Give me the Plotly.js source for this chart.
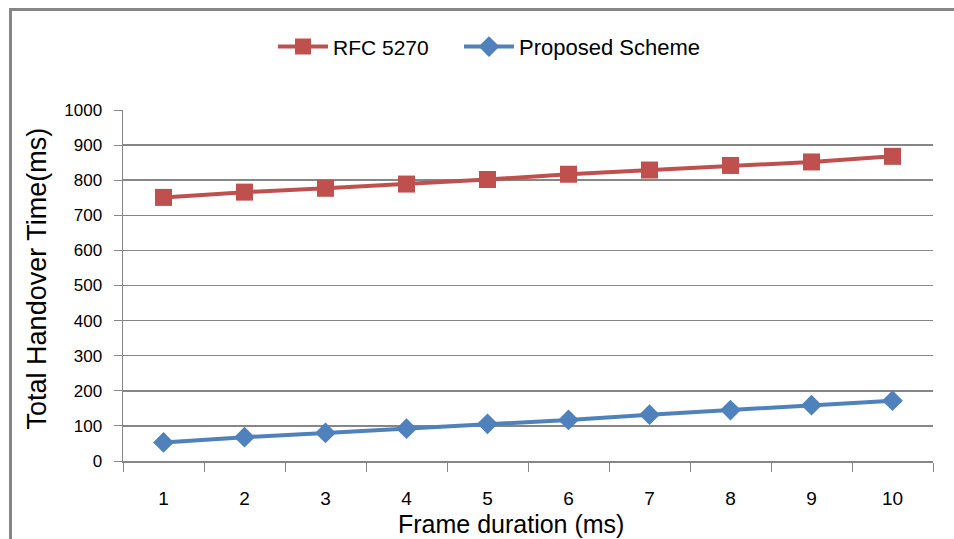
<!DOCTYPE html>
<html>
<head>
<meta charset="utf-8">
<script src="https://cdn.plot.ly/plotly-3.0.1.min.js"></script>
<style>html,body{margin:0;padding:0;background:#fff;}#chart{width:954px;height:539px;}</style>
</head>
<body>
<div id="chart"></div>
<script>
const categories = ["1","2","3","4","5","6","7","8","9","10"];
const rfc5270 = [751, 766, 777, 789, 802, 817, 829, 842, 852, 868];
const proposed = [53, 68, 80, 92, 106, 117, 132, 145, 159, 172];
const seriesNames = ["RFC 5270", "Proposed Scheme"];
const yTicks = [0,100,200,300,400,500,600,700,800,900,1000];
const xTitle = "Frame duration (ms)";
const yTitle = "Total Handover Time(ms)";

const FONT = '"Liberation Sans", Arial, sans-serif';

const traces = [
  {x: categories, y: rfc5270, name: seriesNames[0], type: 'scatter', mode: 'lines+markers',
   legend: 'legend',
   line: {color: '#C0504D', width: 4}, marker: {symbol: 'square', size: 17, color: '#C0504D'}},
  {x: categories, y: proposed, name: seriesNames[1], type: 'scatter', mode: 'lines+markers',
   legend: 'legend2',
   line: {color: '#4F81BD', width: 4}, marker: {symbol: 'diamond', size: 16, color: '#4F81BD'}}
];

function px2x(p) { return (p - 123) / 810; }

const legendCommon = {orientation: 'h', yanchor: 'middle', y: 1.18, xanchor: 'left',
  font: {family: FONT, size: 21, color: '#000'}, itemwidth: 50, bgcolor: 'rgba(0,0,0,0)'};

const layout = {
  width: 954, height: 539,
  margin: {l: 123, r: 21, t: 110, b: 78},
  paper_bgcolor: '#fff', plot_bgcolor: '#fff',
  font: {family: FONT, size: 19, color: '#000'},
  showlegend: true,
  legend: Object.assign({}, legendCommon, {x: px2x(273)}),
  legend2: Object.assign({}, legendCommon, {x: px2x(459), font: {family: FONT, size: 22, color: '#000'}}),
  xaxis: {
    type: 'category', categoryarray: categories, range: [-0.5, 9.5],
    showgrid: false, showline: true, linecolor: '#868686', linewidth: 1.5,
    ticks: 'outside', ticklen: 9, tickcolor: '#868686', tickson: 'boundaries',
    ticklabelstandoff: 20,
    tickfont: {family: FONT, size: 19, color: '#000'},
    zeroline: false, fixedrange: true
  },
  yaxis: {
    range: [0, 1000], tickvals: yTicks, ticktext: yTicks.map(String),
    showgrid: true, gridcolor: '#868686', gridwidth: 1.5,
    showline: true, linecolor: '#868686', linewidth: 1.5,
    ticks: 'outside', ticklen: 8, tickcolor: '#868686',
    ticklabelstandoff: 8,
    tickfont: {family: FONT, size: 17, color: '#000'},
    zeroline: false, fixedrange: true
  },
  annotations: [
    {text: xTitle, xref: 'paper', yref: 'paper', x: 0.479, y: -0.18, xanchor: 'center', yanchor: 'middle',
     showarrow: false, font: {family: FONT, size: 25, color: '#000'}},
    {text: yTitle, xref: 'paper', yref: 'paper', x: -0.105, y: 0.52, xanchor: 'center', yanchor: 'middle',
     textangle: -90, showarrow: false, font: {family: FONT, size: 27, color: '#000'}}
  ],
  shapes: [
    {type: 'path', xref: 'paper', yref: 'paper',
     path: 'M -0.1389,-0.3 L -0.1389,1.2863 L 1.04,1.2863',
     line: {color: '#868686', width: 3}}
  ]
};

Plotly.newPlot('chart', traces, layout, {displayModeBar: false, staticPlot: true});
</script>
</body>
</html>
